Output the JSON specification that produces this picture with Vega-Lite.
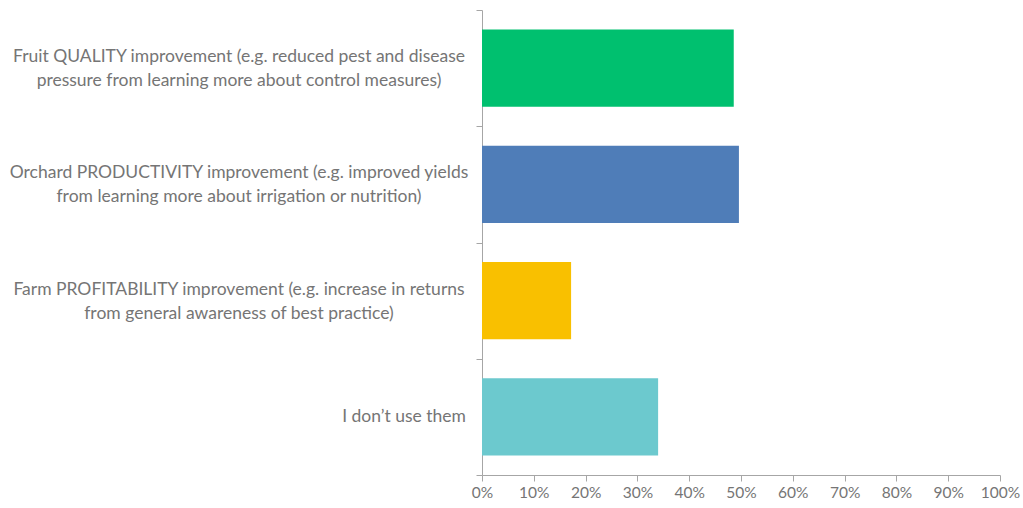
{
  "$schema": "https://vega.github.io/schema/vega-lite/v6.json",
  "autosize": "none",
  "width": 518,
  "height": 465,
  "padding": {"left": 482, "top": 10, "right": 23, "bottom": 33},
  "background": "white",
  "config": {"view": {"stroke": null}, "font": "Lato"},
  "data": {"values": [
    {"cat": "Fruit QUALITY improvement (e.g. reduced pest and disease|pressure from learning more about control measures)", "value": 0.486, "color": "#00C06F"},
    {"cat": "Orchard PRODUCTIVITY improvement (e.g. improved yields|from learning more about irrigation or nutrition)", "value": 0.496, "color": "#4F7DB8"},
    {"cat": "Farm PROFITABILITY improvement (e.g. increase in returns|from general awareness of best practice)", "value": 0.172, "color": "#F9C000"},
    {"cat": "I don’t use them", "value": 0.340, "color": "#6CC9CE"}
  ]},
  "encoding": {
    "y": {
      "field": "cat", "type": "nominal", "sort": null,
      "scale": {"paddingInner": 0, "paddingOuter": 0},
      "axis": {
        "title": null,
        "labels": false,
        "domainColor": "#A6A6A6",
        "tickColor": "#A6A6A6",
        "tickBand": "extent",
        "tickSize": 6
      }
    }
  },
  "layer": [
    {
      "mark": {"type": "bar", "height": {"band": 0.665}},
      "encoding": {
        "x": {
          "field": "value", "type": "quantitative",
          "scale": {"domain": [0, 1]},
          "axis": {
            "title": null,
            "format": ".0%",
            "values": [0, 0.1, 0.2, 0.3, 0.4, 0.5, 0.6, 0.7, 0.8, 0.9, 1],
            "grid": false,
            "labelFontSize": 15.5,
            "labelColor": "#757575",
            "labelPadding": 4,
            "labelFlush": false,
            "domainColor": "#A6A6A6",
            "tickColor": "#A6A6A6",
            "tickSize": 6
          }
        },
        "color": {"field": "color", "type": "nominal", "scale": null, "legend": null}
      }
    },
    {
      "transform": [{"filter": "indexof(datum.cat, '|') >= 0"}],
      "mark": {"type": "text", "align": "center", "baseline": "middle", "dx": -243, "dy": -11, "fontSize": 17.5, "color": "#757575", "lineHeight": 24, "lineBreak": "|"},
      "encoding": {
        "x": {"datum": 0, "type": "quantitative"},
        "text": {"field": "cat"}
      }
    },
    {
      "transform": [{"filter": "indexof(datum.cat, '|') < 0"}],
      "mark": {"type": "text", "align": "right", "baseline": "middle", "dx": -16, "fontSize": 17.5, "color": "#757575", "lineHeight": 24},
      "encoding": {
        "x": {"datum": 0, "type": "quantitative"},
        "text": {"field": "cat"}
      }
    }
  ]
}
